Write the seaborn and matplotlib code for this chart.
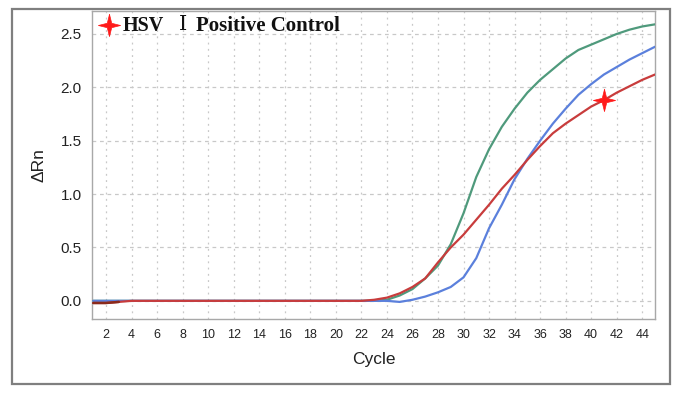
import numpy as np
import pandas as pd
import matplotlib
matplotlib.use("Agg")
import matplotlib.pyplot as plt
import seaborn as sns
from matplotlib.patches import Rectangle
from matplotlib.lines import Line2D

cycles = list(range(1, 46))

green = [0.0]*23 + [0.01, 0.05, 0.11, 0.21, 0.33, 0.53, 0.82, 1.16, 1.42, 1.63,
                    1.80, 1.95, 2.07, 2.17, 2.27, 2.35, 2.40, 2.45, 2.50, 2.54,
                    2.57, 2.59]
red = [-0.02, -0.02, -0.01] + [0.0]*19 + [0.01, 0.03, 0.07, 0.13, 0.21, 0.36,
                                          0.50, 0.62, 0.76, 0.90, 1.05, 1.18,
                                          1.32, 1.45, 1.57, 1.66, 1.74, 1.82,
                                          1.88, 1.95, 2.01, 2.07, 2.12]
blue = [0.0]*24 + [-0.01, 0.01, 0.04, 0.08, 0.13, 0.22, 0.40, 0.68, 0.90, 1.14,
                   1.33, 1.50, 1.66, 1.80, 1.93, 2.03, 2.12, 2.19, 2.26, 2.32,
                   2.38]

series_names = ["green", "blue", "red"]
series_colors = {"green": "#4f9a7c", "blue": "#5b80dc", "red": "#c83c3c"}
star_cycle = 41
legend_parts = ["HSV", "\u2160", "Positive Control"]
xticks = list(range(2, 46, 2))
yticks = [0.0, 0.5, 1.0, 1.5, 2.0, 2.5]

df = pd.DataFrame({
    "Cycle": cycles * 3,
    "dRn": green + blue + red,
    "well": ["green"]*45 + ["blue"]*45 + ["red"]*45,
})

# four-pointed star marker
w = 0.2
star = [(0, 1), (w, w), (1, 0), (w, -w), (0, -1), (-w, -w), (-1, 0), (-w, w), (0, 1)]

sns.set_style("white")
plt.rcParams["font.family"] = ["Liberation Sans", "DejaVu Sans"]

fig = plt.figure(figsize=(6.8, 3.95), dpi=100)
ax = fig.add_axes([92/680, 1-319/395, (655-92)/680, (319-11)/395])

# outer frame
fig.patches.append(Rectangle((12/680, 1-384/395), (670-12)/680, (384-9)/395,
                             transform=fig.transFigure, fill=False,
                             edgecolor="#7f7f7f", linewidth=1.6))

# grid
for xv in xticks:
    ax.axvline(xv, color="#c8c8c8", linestyle=(0, (1.5, 3.5)), linewidth=0.9, zorder=0)
for yv in yticks:
    ax.axhline(yv, color="#c8c8c8", linestyle=(0, (3, 3)), linewidth=0.9, zorder=0)

sns.lineplot(data=df, x="Cycle", y="dRn", hue="well", hue_order=series_names,
             palette=series_colors, linewidth=1.6, legend=False, ax=ax, zorder=3)
# dark start of red baseline
ax.plot(cycles[:3], red[:3], color="#8a2a1c", linewidth=1.8, zorder=4)

# star marker on red curve
ax.plot([star_cycle], [red[star_cycle-1]], marker=star, color="#ff1a1a",
        markersize=16, markeredgewidth=0.5, zorder=5)

ax.set_xlim(0.9, 45.0)
ax.set_ylim(-0.17, 2.715)
ax.set_xticks(xticks)
ax.set_yticks(yticks)
ax.set_xticklabels([str(t) for t in xticks], fontsize=9)
ax.set_yticklabels([f"{t:.1f}" for t in yticks], fontsize=11)
ax.tick_params(axis="both", direction="out", length=4, width=0.8, color="#888888",
               labelcolor="#222222")
ax.tick_params(axis="x", pad=3)
for sp in ax.spines.values():
    sp.set_color("#a8a8a8")
    sp.set_linewidth(1.0)

ax.set_xlabel("Cycle", fontsize=12.5, labelpad=8, color="#222222")
ax.set_ylabel("\u0394Rn", fontsize=12.5, labelpad=10, color="#222222")

# legend-like annotation
fig.lines.append(Line2D([109/680], [1-25/395], transform=fig.transFigure,
                        marker=star, color="#ff1a1a",
                        markersize=16, markeredgewidth=0.5))
serif = ["Liberation Serif", "DejaVu Serif"]
yt = 1-26/395
fig.text(123/680, yt, legend_parts[0], fontsize=14.5, fontweight="bold",
         family=serif, va="center", ha="left", color="#111111")
fig.text(179/680, yt, legend_parts[1], fontsize=15, fontweight="normal",
         family=serif, va="center", ha="left", color="#111111")
fig.text(196/680, yt, legend_parts[2], fontsize=15, fontweight="bold",
         family=serif, va="center", ha="left", color="#111111")

fig.savefig("out.png", dpi=100)
